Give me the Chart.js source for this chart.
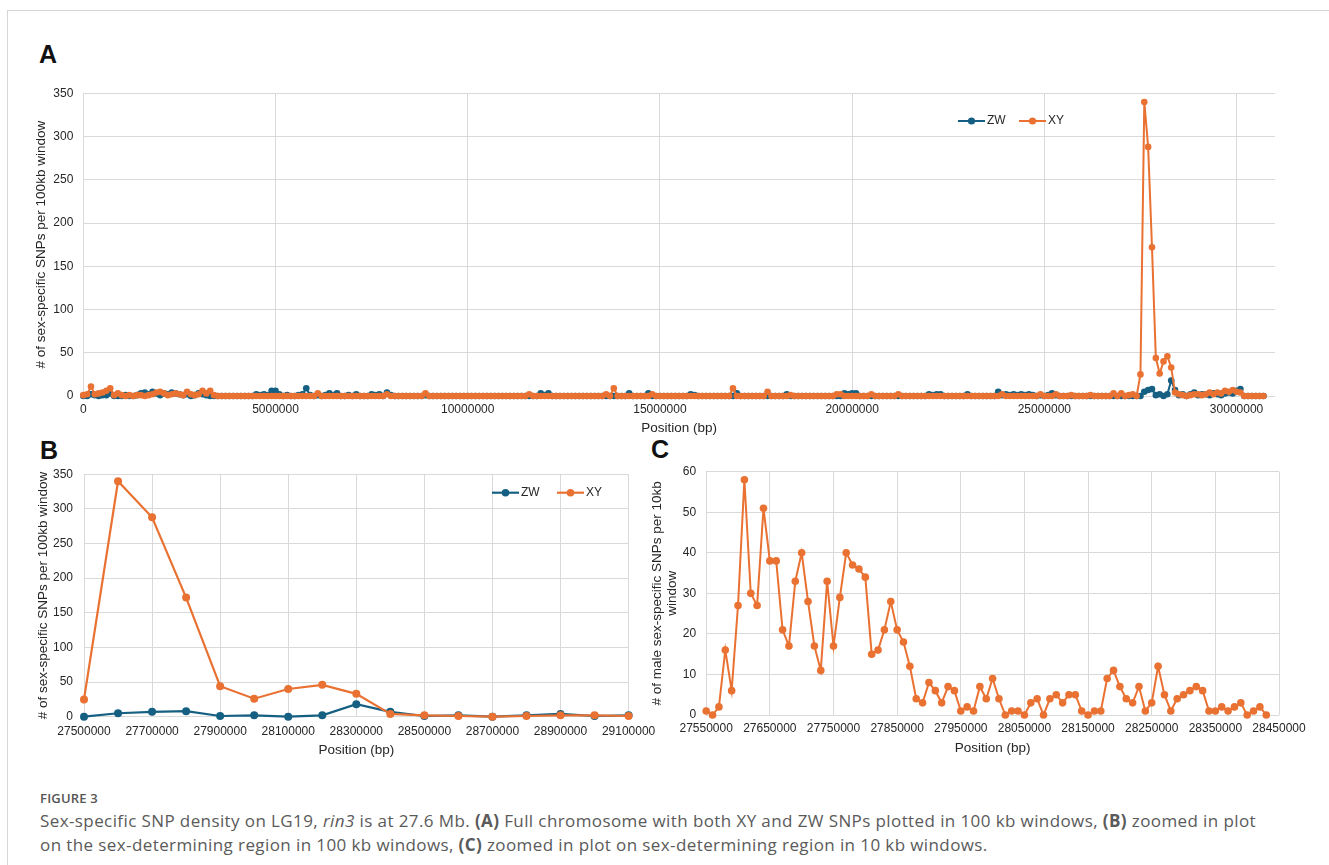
<!DOCTYPE html>
<html>
<head>
<meta charset="utf-8">
<title>Sex-specific SNP density on LG19</title>
<script src="https://cdn.jsdelivr.net/npm/chart.js@4.4.1/dist/chart.umd.min.js"></script>
<style>
  html, body { margin: 0; padding: 0; background: #fff; }
  body { width: 1329px; height: 865px; position: relative; overflow: hidden; font-family: "Liberation Sans", Arial, sans-serif; }
  .frame { position: absolute; left: 7px; top: 10px; right: 0; bottom: 0; border-top: 1px solid #d6d6d6; border-left: 1px solid #d6d6d6; }
  .panel { position: absolute; font: bold 25px/25px "Liberation Sans", Arial, sans-serif; color: #111; }
  canvas { position: absolute; }
  .fig { position: absolute; left: 40px; top: 789px; font: 600 13px/18px "Open Sans", sans-serif; color: #555; letter-spacing: 0.2px; }
  .cap { position: absolute; left: 40px; top: 808.5px; font: 17px/24.5px "Open Sans", sans-serif; color: #5a5a5a; letter-spacing: 0.4px; white-space: nowrap; }
</style>
</head>
<body>
<div class="frame"></div>
<div class="panel" style="left:39px; top:41.7px;">A</div>
<div class="panel" style="left:40px; top:438px;">B</div>
<div class="panel" style="left:651px; top:437px;">C</div>

<canvas id="chartA" width="1329" height="370" style="left:0; top:75px;"></canvas>
<canvas id="chartB" width="680" height="325" style="left:0; top:440px;"></canvas>
<canvas id="chartC" width="689" height="325" style="left:640px; top:440px;"></canvas>

<div class="fig">FIGURE 3</div>
<div class="cap">Sex-specific SNP density on LG19, <i>rin3</i> is at 27.6 Mb. <b>(A)</b> Full chromosome with both XY and ZW SNPs plotted in 100 kb windows, <b>(B)</b> zoomed in plot<br>on the sex-determining region in 100 kb windows, <b>(C)</b> zoomed in plot on sex-determining region in 10 kb windows.</div>

<script>
// ---- Data ----------------------------------------------------------------
// Whole LG19 in 100 kb windows; window i starts at windowStartA + i * windowSizeA.
const windowStartA = 0;
const windowSizeA = 100000;

// ZW (female-specific) SNP counts per 100 kb window
const zwA = [
  0,0,2,1,0,1,1,3,0,0,0,1,0,0,1,3,4,2,5,3,
  1,3,2,4,3,2,1,2,0,1,3,2,1,0,0,0,0,0,0,0,
  0,0,0,0,0,2,1,2,1,6,6,2,0,1,0,0,1,2,9,1,
  0,1,0,1,3,1,3,0,0,1,0,2,0,0,0,2,1,2,0,4,
  1,0,0,0,0,0,0,0,0,1,0,0,0,0,0,0,0,0,0,0,
  0,0,0,0,0,0,0,0,0,0,0,0,0,0,0,0,0,0,0,3,
  1,3,0,0,0,0,0,0,0,0,0,0,0,0,0,0,0,0,0,0,
  0,0,3,0,0,0,0,3,0,0,0,0,0,0,0,0,0,0,2,1,
  0,0,0,0,0,0,0,0,0,0,3,0,0,0,0,0,0,0,0,0,
  0,0,0,2,0,0,0,0,0,0,0,0,0,0,0,0,0,0,3,2,
  3,3,0,0,0,0,0,0,0,0,0,0,0,0,0,0,0,0,0,0,
  2,1,2,2,0,0,0,0,0,0,2,0,0,0,0,0,0,0,5,1,
  2,1,2,1,2,1,2,1,0,1,0,1,3,1,0,0,0,0,0,0,
  0,0,0,0,0,0,0,0,0,0,0,0,0,0,0,0,5,7,8,1,
  2,0,2,18,7,1,2,0,2,4,1,2,2,1,3,2,1,3,4,3,
  6,8,0,0,0,0,0,0
];

// XY (male-specific) SNP counts per 100 kb window
const xyA = [
  1,2,11,2,3,4,6,9,1,3,1,0,1,0,1,1,0,1,2,4,
  5,3,1,2,3,2,1,5,2,1,2,6,3,6,1,0,0,0,0,0,
  0,0,0,0,0,0,0,0,0,0,0,0,0,0,0,0,0,0,0,0,
  0,3,0,0,0,0,0,0,0,0,0,0,0,0,0,0,0,0,0,2,
  0,0,0,0,0,0,0,0,0,3,0,0,0,0,0,0,0,0,0,0,
  0,0,0,0,0,0,0,0,0,0,0,0,0,0,0,0,2,0,0,0,
  0,0,0,0,0,0,0,0,0,0,0,0,0,0,0,0,2,0,9,0,
  0,0,0,0,0,0,0,0,2,0,0,0,0,0,0,0,0,0,0,0,
  0,0,0,0,0,0,0,0,0,9,0,0,0,0,0,0,0,0,5,0,
  0,0,0,0,1,0,0,0,0,0,0,0,0,0,0,0,2,2,0,0,
  0,0,0,0,0,2,0,0,0,0,0,0,2,0,0,0,0,0,0,0,
  0,0,0,0,0,0,0,0,0,0,0,0,0,0,0,0,0,0,0,2,
  0,0,0,0,0,0,0,0,0,2,0,0,0,2,0,0,0,1,0,0,
  0,0,1,0,0,0,0,0,3,0,3,0,1,2,0,25,340,288,172,44,
  26,40,46,33,4,2,1,0,1,2,2,1,2,4,2,4,3,6,5,7,
  5,4,0,0,0,0,0,0
];

// Sex-determining region: windows 27.5 Mb .. 29.1 Mb of the 100 kb series
const regionFirstWindowB = 275;
const regionLastWindowB = 291;

// Male-specific SNP counts per 10 kb window starting at 27.55 Mb
const windowStartC = 27550000;
const windowSizeC = 10000;
const xyC = [
  1,0,2,16,6,27,58,30,27,51,
  38,38,21,17,33,40,28,17,11,33,
  17,29,40,37,36,34,15,16,21,28,
  21,18,12,4,3,8,6,3,7,6,
  1,2,1,7,4,9,4,0,1,1,
  0,3,4,0,4,5,3,5,5,1,
  0,1,1,9,11,7,4,3,7,1,
  3,12,5,1,4,5,6,7,6,1,
  1,2,1,2,3,0,1,2,0
];

// Axis ranges, tick steps and tick labels
const xRangeA = [0, 31000000];
const xTicksA = [0, 5000000, 10000000, 15000000, 20000000, 25000000, 30000000];
const xRangeB = [27500000, 29100000], xStepB = 200000;
const xRangeC = [27550000, 28450000], xStepC = 100000;
const yRangeAB = [0, 350], yStepAB = 50;
const yRangeC = [0, 60], yStepC = 10;

const seriesNames = ['ZW', 'XY'];
const xTitle = 'Position (bp)';
const yTitle100kb = '# of sex-specific SNPs per 100kb window';
const yTitle10kb = ['# of male sex-specific SNPs per 10kb', 'window'];

// ---- Style ---------------------------------------------------------------
const BLUE = '#156082';
const ORANGE = '#E97132';
const GRID = '#d9d9d9';
const TEXT = '#262626';
const FONT = '"Liberation Sans", Arial, sans-serif';

function toPoints(start, step, values) {
  return values.map((v, i) => ({ x: start + i * step, y: v }));
}

function series(label, color, data, radius, width, order) {
  return {
    label, data,
    borderColor: color, backgroundColor: color,
    pointBackgroundColor: color, pointBorderColor: color, pointBorderWidth: 0,
    pointRadius: radius, pointHoverRadius: radius,
    borderWidth: width, tension: 0, order, clip: false
  };
}

// Legend drawn as "line + marker + label", placed inside the plot
const lineLegend = {
  id: 'lineLegend',
  afterDraw(chart, args, opts) {
    const ctx = chart.ctx;
    ctx.save();
    opts.items.forEach(item => {
      const ds = chart.data.datasets[item.dataset];
      const y = opts.y;
      ctx.strokeStyle = ds.borderColor;
      ctx.lineWidth = ds.borderWidth;
      ctx.beginPath();
      ctx.moveTo(item.x, y);
      ctx.lineTo(item.x + opts.lineLength, y);
      ctx.stroke();
      ctx.fillStyle = ds.borderColor;
      ctx.beginPath();
      ctx.arc(item.x + opts.lineLength / 2, y, opts.radius, 0, Math.PI * 2);
      ctx.fill();
      ctx.fillStyle = TEXT;
      ctx.font = '12px ' + FONT;
      ctx.textBaseline = 'middle';
      ctx.textAlign = 'left';
      ctx.fillText(ds.label, item.x + opts.lineLength + 2, y);
    });
    ctx.restore();
  }
};

function axis(cfg) {
  const a = {
    type: 'linear',
    min: cfg.range[0], max: cfg.range[1],
    ticks: {
      padding: cfg.tickPad, color: TEXT,
      font: { family: FONT, size: 12 },
      autoSkip: false, maxRotation: 0, minRotation: 0,
      callback: v => String(v)
    },
    grid: { color: GRID, lineWidth: 1, drawTicks: false },
    border: { display: false },
    title: {
      display: true, text: cfg.title, color: TEXT,
      font: { family: FONT, size: 13.5, lineHeight: cfg.lineHeight || 1.2 },
      padding: cfg.titlePad
    },
    afterFit: cfg.fit
  };
  if (cfg.step) a.ticks.stepSize = cfg.step;
  if (cfg.tickValues) {
    a.afterBuildTicks = s => { s.ticks = cfg.tickValues.map(v => ({ value: v })); };
  }
  return a;
}

function baseOptions(pad, scales, extraPlugins) {
  return {
    responsive: false, animation: false, devicePixelRatio: 1, events: [],
    layout: { padding: pad },
    plugins: Object.assign({ legend: { display: false }, tooltip: { enabled: false } }, extraPlugins || {}),
    scales
  };
}

// ---- Panel A: whole chromosome -----------------------------------------
new Chart(document.getElementById('chartA'), {
  type: 'line',
  data: {
    datasets: [
      series(seriesNames[0], BLUE, toPoints(windowStartA, windowSizeA, zwA), 3.3, 2, 1),
      series(seriesNames[1], ORANGE, toPoints(windowStartA, windowSizeA, xyA), 3.3, 2, 0)
    ]
  },
  options: baseOptions(
    { top: 18.3, right: 54, bottom: 0, left: 0 },
    {
      x: axis({ range: xRangeA, tickValues: xTicksA, tickPad: 6.8, title: xTitle,
                titlePad: { top: 0, bottom: 8.9 }, fit: s => { s.height = 49; } }),
      y: axis({ range: yRangeAB, step: yStepAB, tickPad: 10, title: yTitle100kb,
                titlePad: { top: 33.6, bottom: 0 }, fit: s => { s.width = 83.3; } })
    },
    { lineLegend: { y: 46, lineLength: 27, radius: 3.6, items: [{ dataset: 0, x: 958 }, { dataset: 1, x: 1019 }] } }
  ),
  plugins: [lineLegend]
});

// ---- Panel B: sex-determining region, 100 kb windows ---------------------
const zwB = zwA.slice(regionFirstWindowB, regionLastWindowB + 1);
const xyB = xyA.slice(regionFirstWindowB, regionLastWindowB + 1);
const startB = windowStartA + regionFirstWindowB * windowSizeA;

new Chart(document.getElementById('chartB'), {
  type: 'line',
  data: {
    datasets: [
      series(seriesNames[0], BLUE, toPoints(startB, windowSizeA, zwB), 4, 2.2, 1),
      series(seriesNames[1], ORANGE, toPoints(startB, windowSizeA, xyB), 4, 2.2, 0)
    ]
  },
  options: baseOptions(
    { top: 34.3, right: 51.4, bottom: 0, left: 0 },
    {
      x: axis({ range: xRangeB, step: xStepB, tickPad: 7.5, title: xTitle,
                titlePad: { top: 0, bottom: 6.2 }, fit: s => { s.height = 48.3; } }),
      y: axis({ range: yRangeAB, step: yStepAB, tickPad: 11, title: yTitle100kb,
                titlePad: { top: 35.4, bottom: 0 }, fit: s => { s.width = 84; } })
    },
    { lineLegend: { y: 52.7, lineLength: 27, radius: 3.8, items: [{ dataset: 0, x: 492 }, { dataset: 1, x: 557 }] } }
  ),
  plugins: [lineLegend]
});

// ---- Panel C: sex-determining region, 10 kb windows ----------------------
new Chart(document.getElementById('chartC'), {
  type: 'line',
  data: {
    datasets: [
      series(seriesNames[1], ORANGE, toPoints(windowStartC, windowSizeC, xyC), 3.8, 2, 0)
    ]
  },
  options: baseOptions(
    { top: 31.7, right: 50, bottom: 0, left: 0 },
    {
      x: axis({ range: xRangeC, step: xStepC, tickPad: 6.8, title: xTitle,
                titlePad: { top: 0, bottom: 8.6 }, fit: s => { s.height = 50; } }),
      y: axis({ range: yRangeC, step: yStepC, tickPad: 10, title: yTitle10kb, lineHeight: 1.15,
                titlePad: { top: 9.25, bottom: 0 }, fit: s => { s.width = 66.2; } })
    }
  )
});
</script>
</body>
</html>
